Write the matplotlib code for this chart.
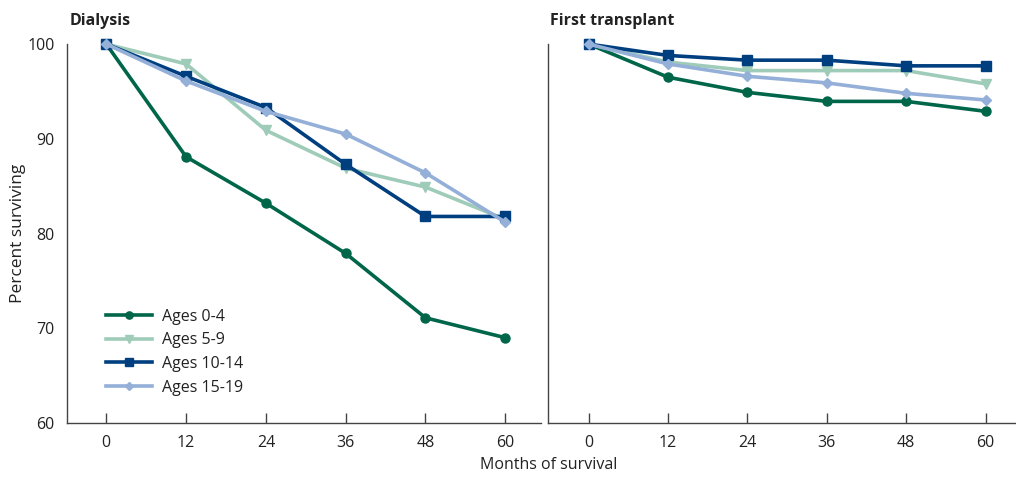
import matplotlib
matplotlib.use("Agg")
import matplotlib.pyplot as plt

months = [0, 12, 24, 36, 48, 60]
groups = ["Ages 0-4", "Ages 5-9", "Ages 10-14", "Ages 15-19"]

dialysis_0_4 = [100, 88.1, 83.2, 77.9, 71.1, 69.0]
dialysis_5_9 = [100, 97.9, 90.9, 86.9, 84.9, 81.5]
dialysis_10_14 = [100, 96.6, 93.3, 87.3, 81.8, 81.8]
dialysis_15_19 = [100, 96.1, 92.9, 90.5, 86.4, 81.2]

transplant_0_4 = [100, 96.5, 94.9, 93.95, 93.95, 92.9]
transplant_5_9 = [100, 98.1, 97.2, 97.2, 97.2, 95.8]
transplant_10_14 = [100, 98.8, 98.3, 98.3, 97.7, 97.7]
transplant_15_19 = [100, 97.9, 96.6, 95.9, 94.8, 94.1]

colors = ["#00664a", "#9fcbb9", "#003f7f", "#94afd8"]
markers = ["o", "v", "s", "D"]
msizes = [6.5, 6.5, 6.5, 5.5]

plt.rcParams["font.family"] = ["Open Sans", "DejaVu Sans"]

fig = plt.figure(figsize=(10.16, 4.79), dpi=100)
ax1 = fig.add_axes([0.066, 0.117, 0.466, 0.791])
ax2 = fig.add_axes([0.539, 0.117, 0.461, 0.791])

panels = [
    (ax1, "Dialysis", [dialysis_0_4, dialysis_5_9, dialysis_10_14, dialysis_15_19]),
    (ax2, "First transplant", [transplant_0_4, transplant_5_9, transplant_10_14, transplant_15_19]),
]

for ax, title, series in panels:
    for vals, name, c, m, ms in zip(series, groups, colors, markers, msizes):
        ax.plot(months, vals, color=c, marker=m, markersize=ms, linewidth=2.6,
                label=name, clip_on=False)
    ax.set_ylim(60, 100)
    ax.set_yticks([60, 70, 80, 90, 100])
    ax.set_xticks(months)
    for side in ("top", "right"):
        ax.spines[side].set_visible(False)
    for side in ("left", "bottom"):
        ax.spines[side].set_color("#444444")
        ax.spines[side].set_linewidth(1.0)
    ax.tick_params(axis="x", direction="in", length=7.5, width=1, color="#444444",
                   labelsize=11.5, pad=9, labelcolor="#222222")
    ax.tick_params(axis="y", length=0, labelsize=11.5, pad=9, labelcolor="#222222")
    ax.text(0.006, 1.04, title, transform=ax.transAxes, fontsize=11.5,
            fontweight="bold", color="#222222", ha="left", va="bottom")

ax1.set_xlim(-5.9, 65.3)
ax2.set_xlim(-6.2, 64.6)
ax2.tick_params(axis="y", labelleft=False)

fig.text(0.018, 0.117 + 0.791 * 0.5, "Percent surviving", rotation=90,
         ha="center", va="center", fontsize=12.5, color="#222222")
fig.text(0.54, 0.012, "Months of survival", ha="center", va="bottom",
         fontsize=11.5, color="#222222")

leg = ax1.legend(loc="lower left", bbox_to_anchor=(0.068, 0.055), frameon=False,
                 fontsize=11.5, handlelength=2.9, labelspacing=0.48, handletextpad=0.6,
                 markerscale=0.8, borderaxespad=0)
for t in leg.get_texts():
    t.set_color("#222222")

fig.savefig("out.png", dpi=100)
